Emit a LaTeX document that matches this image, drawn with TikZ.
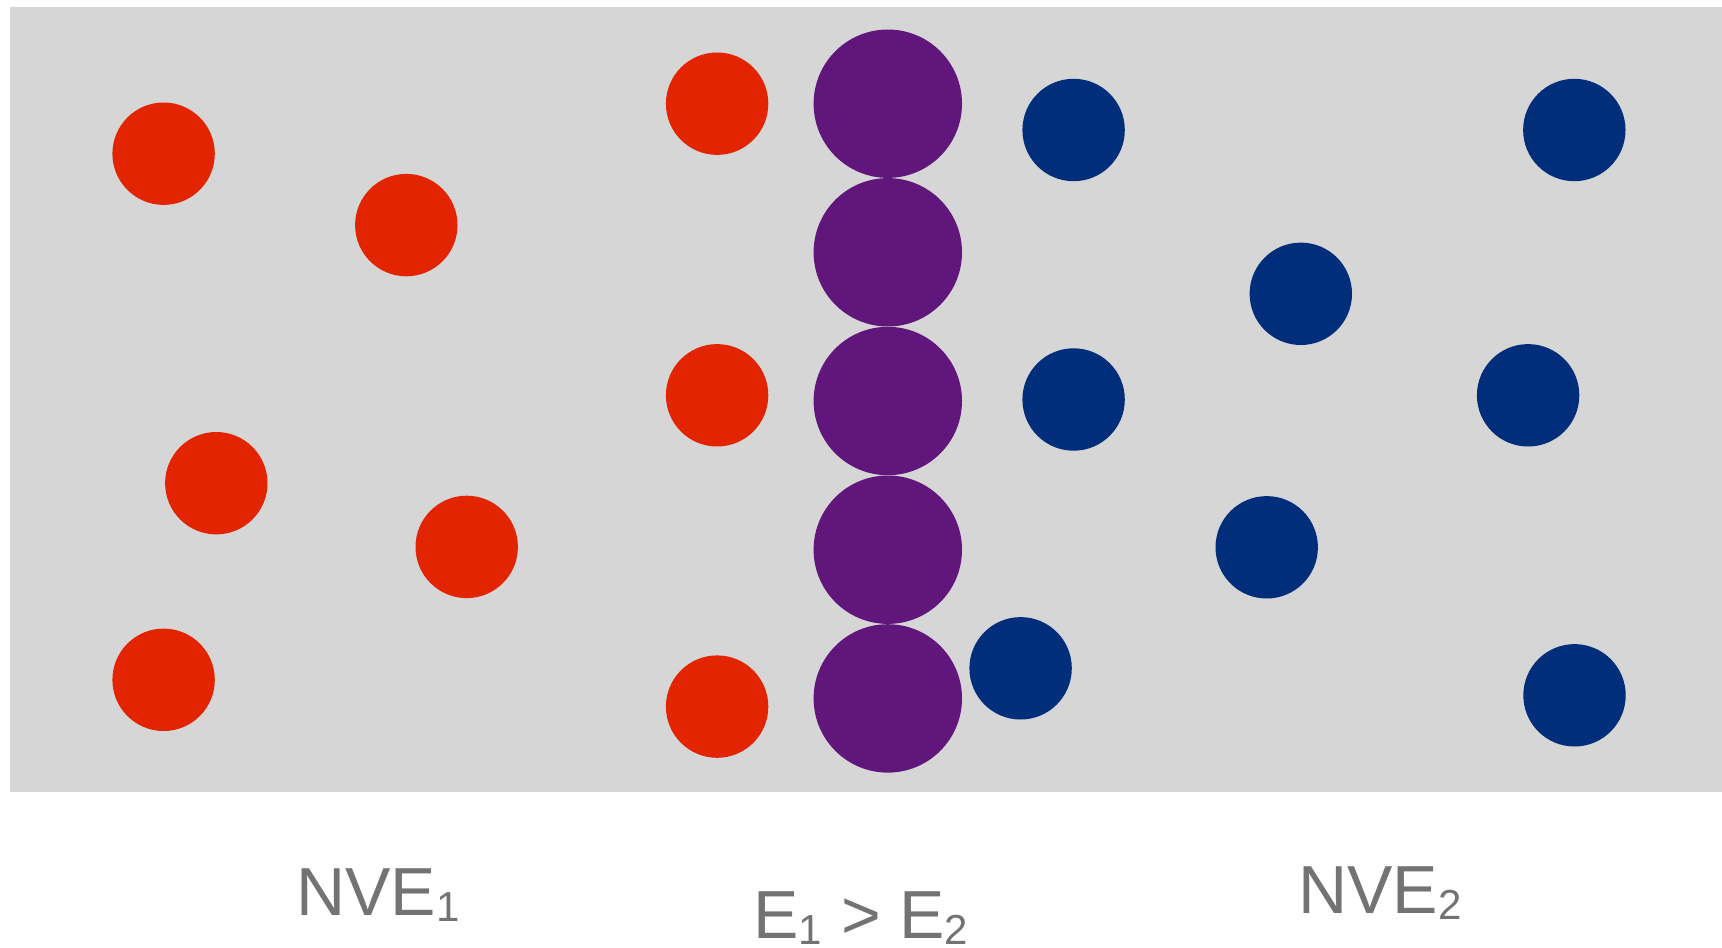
\documentclass[tikz,border=0pt]{standalone}
\usepackage{fontspec}
\setmainfont{Liberation Sans}
\usepackage{tikz}

\definecolor{boxgray}{HTML}{D6D6D6}
\definecolor{hotred}{HTML}{E22400}
\definecolor{mixpurple}{HTML}{60167A}
\definecolor{coldblue}{HTML}{002E7A}
\definecolor{labelgray}{HTML}{737373}

\newcommand{\lowidx}[1]{\raisebox{-0.09em}{\fontsize{21}{21}\selectfont #1}}

\begin{document}
\begin{tikzpicture}[x=0.5pt, y=-0.5pt,
	lbl/.style={anchor=base west, inner sep=0pt, text=labelgray, font=\fontsize{34}{40}\selectfont}]
		\useasboundingbox (0, 0) rectangle (1722, 947);
		\fill[white] (0, 0) rectangle (1722, 947);
		\fill[boxgray] (10, 7) rectangle (1722, 792);
		
		% hot side
		\fill[hotred] (163.6, 153.7) circle (25.6pt);
		\fill[hotred] (406.3, 225.1) circle (25.6pt);
		\fill[hotred] (216.3, 483.2) circle (25.6pt);
		\fill[hotred] (466.7, 546.9) circle (25.6pt);
		\fill[hotred] (163.6, 679.8) circle (25.6pt);
		\fill[hotred] (717.1, 103.7) circle (25.6pt);
		\fill[hotred] (717.1, 395.3) circle (25.6pt);
		\fill[hotred] (717.1, 706.6) circle (25.6pt);
		
		% wall
		\fill[mixpurple] (887.8, 103.7) circle (37.1pt);
		\fill[mixpurple] (887.8, 252.3) circle (37.1pt);
		\fill[mixpurple] (887.8, 401.0) circle (37.1pt);
		\fill[mixpurple] (887.8, 549.7) circle (37.1pt);
		\fill[mixpurple] (887.8, 698.4) circle (37.1pt);
		
		% cold side
		\fill[coldblue] (1073.6, 130.0) circle (25.6pt);
		\fill[coldblue] (1073.6, 399.5) circle (25.6pt);
		\fill[coldblue] (1020.6, 668.3) circle (25.6pt);
		\fill[coldblue] (1300.8, 293.8) circle (25.6pt);
		\fill[coldblue] (1266.7, 547.3) circle (25.6pt);
		\fill[coldblue] (1574.3, 130.0) circle (25.6pt);
		\fill[coldblue] (1528.1, 395.3) circle (25.6pt);
		\fill[coldblue] (1574.5, 695.3) circle (25.6pt);
		
		\node[lbl] (nveone) at (296, 915) {NVE\lowidx{1}};
		\node[lbl] (energy) at (753, 938) {E\lowidx{1} > E\lowidx{2}};
		\node[lbl] (nvetwo) at (1298, 913) {NVE\lowidx{2}};
	\end{tikzpicture}
\end{document}
